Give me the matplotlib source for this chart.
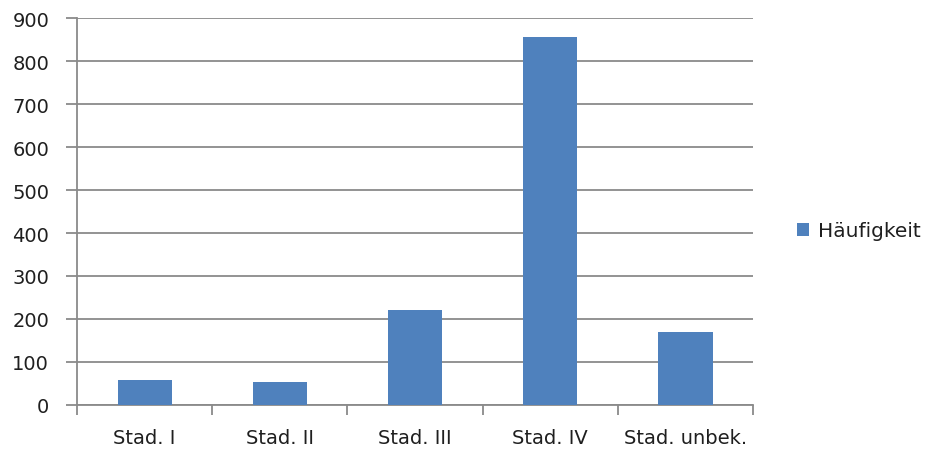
import matplotlib
matplotlib.use("Agg")
import matplotlib.pyplot as plt
import numpy as np

categories = ["Stad. I", "Stad. II", "Stad. III", "Stad. IV", "Stad. unbek."]
haeufigkeit = [58, 53, 221, 856, 170]
y_ticks = [0, 100, 200, 300, 400, 500, 600, 700, 800, 900]
series_name = "Häufigkeit"

bar_color = "#4F81BD"
grid_color = "#8A8A8A"
text_color = "#1F1F1F"

plt.rcParams["font.family"] = ["DejaVu Sans"]

fig = plt.figure(figsize=(9.3, 4.52), dpi=100)
ax = fig.add_axes([0.0828, 0.1024, 0.727, 0.8546])

x = np.arange(len(categories))
ax.bar(x, haeufigkeit, width=0.4, color=bar_color, zorder=3, label=series_name)

ax.set_xlim(-0.5, len(categories) - 0.5)
ax.set_ylim(0, 900)
ax.set_yticks(y_ticks)
ax.yaxis.grid(True, color=grid_color, linewidth=1.3, zorder=0)
ax.set_axisbelow(True)

# category labels centred under the bars, tick marks between categories
ax.set_xticks(x)
ax.set_xticklabels(categories, fontsize=14, color=text_color)
ax.tick_params(axis="x", which="major", length=0, pad=17)
ax.set_xticks(np.arange(-0.5, len(categories)), minor=True)
ax.tick_params(axis="x", which="minor", length=7, width=1.3, color=grid_color, direction="out")

ax.tick_params(axis="y", which="major", length=8, width=1.3, color=grid_color,
               labelsize=14, labelcolor=text_color, pad=12)

for side in ["top", "right"]:
    ax.spines[side].set_visible(False)
for side in ["left", "bottom"]:
    ax.spines[side].set_color(grid_color)
    ax.spines[side].set_linewidth(1.3)

leg = fig.legend(loc="center left", bbox_to_anchor=(0.857, 0.487), frameon=False,
                 borderpad=0, borderaxespad=0,
                 fontsize=14.5, handlelength=0.6, handleheight=0.6, handletextpad=0.45)
for t in leg.get_texts():
    t.set_color(text_color)

fig.savefig("out.png", dpi=100)
